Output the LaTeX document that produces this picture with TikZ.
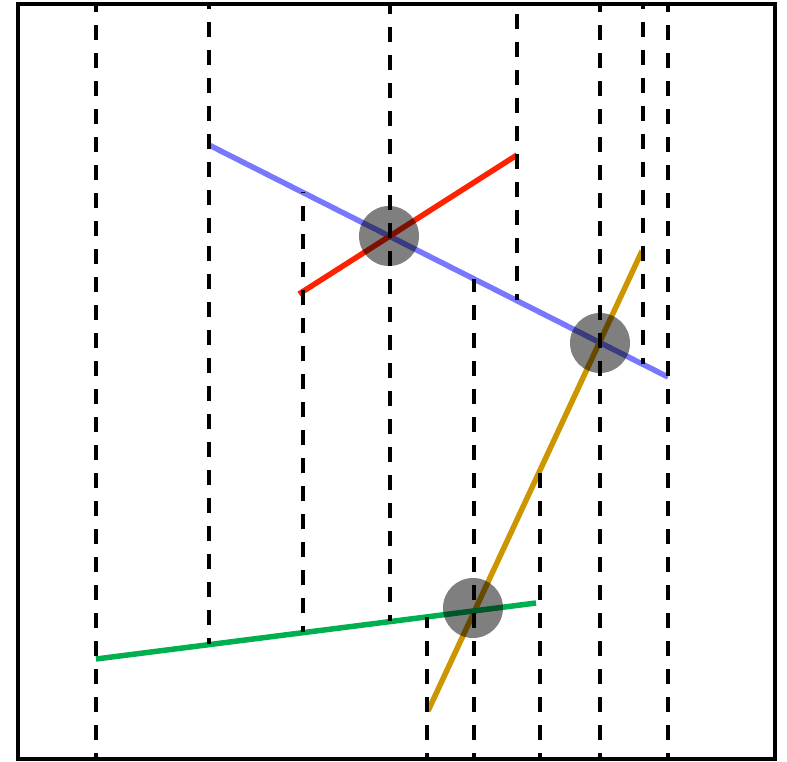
\documentclass[tikz,border=0pt]{standalone}
\usepackage{xcolor}
\usepackage{tikz}
\usetikzlibrary{calc}
\definecolor{segblue}{RGB}{120,120,255}
\definecolor{segred}{RGB}{255,34,0}
\definecolor{seggold}{RGB}{204,150,0}
\definecolor{seggreen}{RGB}{0,176,80}
\tikzset{
  frame/.style={line width=3.5pt},
  seg/.style={line width=5.5pt},
  sweep/.style={line width=3.8pt, dash pattern=on 15pt off 13pt, dash phase=9pt},
  event/.style={circle, fill=black, opacity=0.5, minimum size=60pt, inner sep=0pt},
}

\begin{document}
\begin{tikzpicture}[x=1pt,y=-1pt]
\useasboundingbox (0,0) rectangle (787,761);
\draw[frame] (18,4) rectangle (775,759);
% segments
\coordinate (b1) at (209,145);
\coordinate (b2) at (668,377);
\coordinate (r1) at (299,294);
\coordinate (r2) at (517,155);
\coordinate (g1) at (428,711);
\coordinate (g2) at (642,251);
\coordinate (n1) at (96,659);
\coordinate (n2) at (536,603);
\draw[seg, segblue] (b1) -- (b2);
\draw[seg, segred] (r1) -- (r2);
\draw[seg, seggold] (g1) -- (g2);
\draw[seg, seggreen] (n1) -- (n2);
% vertical extensions
\foreach \x/\ya/\yb in {96/759/4, 209/644/4, 303/632/192, 390/621/4,
                        427/759/617, 474/759/279, 517/300/4, 540/759/470,
                        600/759/4, 643/364/4, 668/759/4}
  \draw[sweep] (\x,\ya) -- (\x,\yb);
% intersection points
\node[event] (p1) at (389,236) {};
\node[event] (p2) at (600,343) {};
\node[event] (p3) at (473,608) {};
\end{tikzpicture}
\end{document}
